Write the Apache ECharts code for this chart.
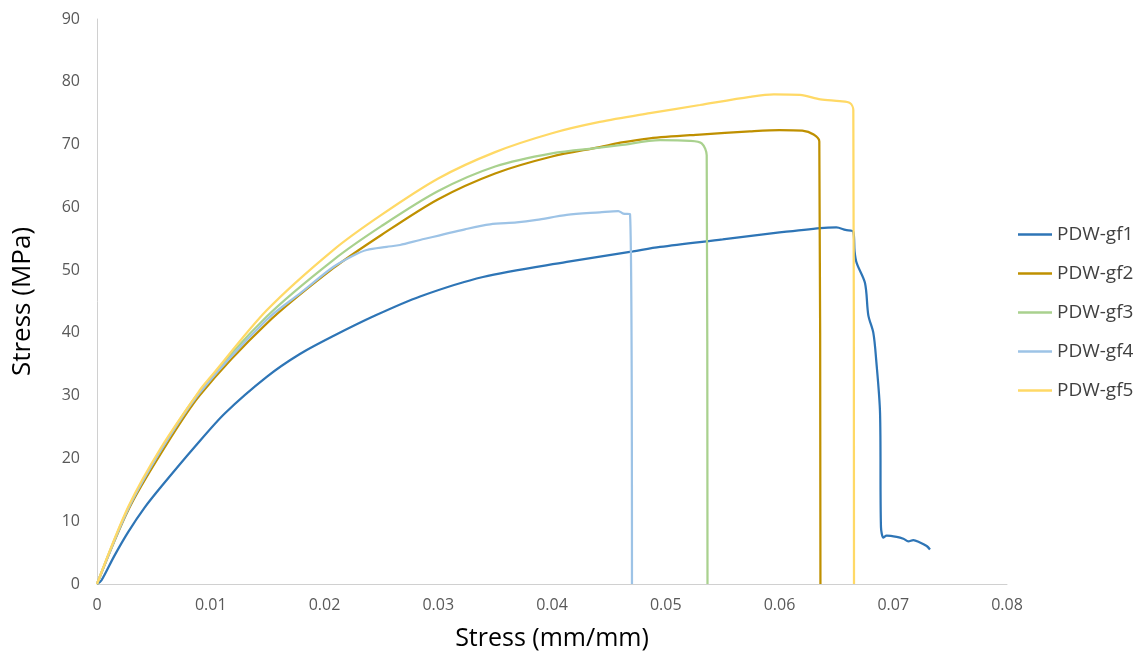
<!DOCTYPE html>
<html>
<head>
<meta charset="utf-8">
<script src="https://cdn.jsdelivr.net/npm/echarts@6/dist/echarts.min.js"></script>
<style>
  html, body { margin: 0; padding: 0; background: #ffffff; }
  #chart { width: 1143px; height: 660px; }
</style>
</head>
<body>
<div id="chart"></div>
<script>
// Tensile test curves: [strain, stress (MPa)]
const seriesNames = ['PDW-gf1', 'PDW-gf2', 'PDW-gf3', 'PDW-gf4', 'PDW-gf5'];
const seriesColors = ['#2E75B6', '#BF9000', '#A9D18E', '#9DC3E6', '#FFD966'];

const gf1 = [
  [0, 0], [0.0004, 0.6], [0.0015, 4.4], [0.00275, 8.3], [0.0042, 12.2], [0.00569, 15.6],
  [0.00862, 21.9], [0.01125, 27.2], [0.01492, 33.0], [0.0178, 36.6], [0.02077, 39.5],
  [0.0245, 42.8], [0.0284, 45.8], [0.03393, 48.9], [0.0413, 51.3], [0.04712, 53.0],
  [0.0495, 53.7], [0.055, 54.9], [0.06, 56.0], [0.0636, 56.7], [0.065, 56.8],
  [0.0658, 56.4], [0.06649, 56.1], [0.0666, 53.0], [0.06679, 51.1], [0.06752, 47.9],
  [0.06781, 42.8], [0.06825, 40.0], [0.0685, 35.7], [0.06884, 27.2], [0.06892, 9.1],
  [0.06913, 7.4], [0.06942, 7.7], [0.0703, 7.5], [0.07089, 7.2], [0.07133, 6.8],
  [0.07176, 7.0], [0.07235, 6.6], [0.07294, 6.05], [0.07323, 5.5]
];

const gf2 = [
  [0, 0], [0.00275, 11.8], [0.00569, 21.0], [0.00905, 30.1], [0.01492, 41.5],
  [0.02077, 50.3], [0.025, 55.6], [0.03, 61.3], [0.035, 65.4], [0.04, 68.1],
  [0.0442, 69.6], [0.046, 70.3], [0.0486, 71.0], [0.053, 71.6], [0.0574, 72.1],
  [0.06, 72.3], [0.062, 72.2], [0.063, 71.6], [0.0635, 70.5], [0.0636, 0]
];

const gf3 = [
  [0, 0], [0.00275, 12.1], [0.00569, 21.6], [0.00905, 30.7], [0.01492, 42.6],
  [0.02077, 51.6], [0.025, 57.0], [0.03, 62.6], [0.035, 66.5], [0.04, 68.6],
  [0.0442, 69.5], [0.04598, 69.9], [0.0495, 70.7], [0.0521, 70.6], [0.05316, 70.2],
  [0.0536, 68.3], [0.05367, 0]
];

const gf4 = [
  [0, 0], [0.00275, 12.0], [0.00569, 21.5], [0.00905, 30.5], [0.01492, 42.1],
  [0.01785, 46.3], [0.02077, 50.5], [0.0225, 52.3], [0.02371, 53.2], [0.02547, 53.7],
  [0.02664, 54.0], [0.0284, 54.8], [0.03235, 56.5], [0.03455, 57.3], [0.0369, 57.6],
  [0.03865, 58.0], [0.0413, 58.8], [0.0442, 59.2], [0.04583, 59.4], [0.04627, 59.0],
  [0.04686, 58.9], [0.04703, 0]
];

const gf5 = [
  [0, 0], [0.00275, 12.3], [0.00569, 21.9], [0.00905, 30.9], [0.01, 33.0],
  [0.01492, 43.6], [0.02077, 53.2], [0.025, 58.8], [0.03, 64.6], [0.035, 68.8],
  [0.04, 71.8], [0.0442, 73.6], [0.0486, 75.0], [0.053, 76.3], [0.0574, 77.6],
  [0.0595, 78.0], [0.0618, 77.9], [0.0636, 77.2], [0.0653, 76.9], [0.0662, 76.6],
  [0.06649, 75.5], [0.06655, 0]
];

const seriesData = [gf1, gf2, gf3, gf4, gf5];

const xMin = 0, xMax = 0.08, xStep = 0.01;
const yMin = 0, yMax = 90, yStep = 10;

const font = '"Open Sans", "Noto Sans", sans-serif';

const chart = echarts.init(document.getElementById('chart'), null, { renderer: 'canvas' });

chart.setOption({
  backgroundColor: '#ffffff',
  animation: false,
  grid: { left: 97, right: 136, top: 19, bottom: 76, containLabel: false },
  legend: {
    orient: 'vertical',
    left: 1013,
    top: 220,
    icon: 'rect',
    itemWidth: 34,
    itemHeight: 2.5,
    itemGap: 20,
    data: seriesNames,
    textStyle: { fontFamily: font, fontSize: 19, color: '#404040' }
  },
  xAxis: {
    type: 'value',
    min: xMin,
    max: xMax,
    interval: xStep,
    name: 'Stress (mm/mm)',
    nameLocation: 'middle',
    nameGap: 42,
    nameTextStyle: { fontFamily: font, fontSize: 25, color: '#000000' },
    axisLine: { show: true, lineStyle: { color: '#d0d0d0', width: 1 } },
    axisTick: { show: false },
    splitLine: { show: false },
    axisLabel: {
      fontFamily: font, fontSize: 16, color: '#595959', margin: 13,
      formatter: v => (Math.round(v * 100) / 100).toString()
    }
  },
  yAxis: {
    type: 'value',
    min: yMin,
    max: yMax,
    interval: yStep,
    name: 'Stress (MPa)',
    nameLocation: 'middle',
    nameGap: 61,
    nameTextStyle: { fontFamily: font, fontSize: 26, color: '#000000' },
    axisLine: { show: true, lineStyle: { color: '#d0d0d0', width: 1 } },
    axisTick: { show: false },
    splitLine: { show: false },
    axisLabel: { fontFamily: font, fontSize: 16, color: '#595959', margin: 17 }
  },
  series: seriesNames.map((name, i) => ({
    name: name,
    type: 'line',
    data: seriesData[i],
    symbol: 'none',
    showSymbol: false,
    smooth: 0.3,
    color: seriesColors[i],
    lineStyle: { color: seriesColors[i], width: 2.25 },
    z: 2 + i
  }))
});
</script>
</body>
</html>
